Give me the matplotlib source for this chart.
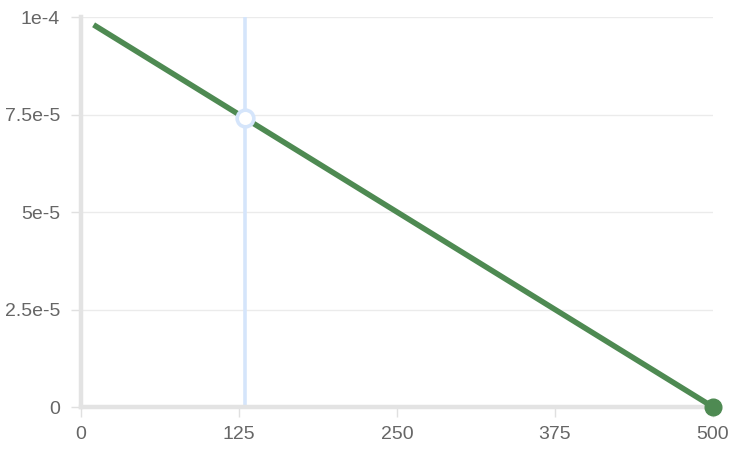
import numpy as np
from matplotlib import pyplot as plt

# data
x_vals = [10, 130, 500]
y_vals = [9.8e-5, 7.4e-5, 0.0]
hover_x = 130
hover_y = 7.4e-5

x_ticks = [0, 125, 250, 375, 500]
x_labels = ['0', '125', '250', '375', '500']
y_ticks = [0, 2.5e-5, 5e-5, 7.5e-5, 1e-4]
y_labels = ['0', '2.5e-5', '5e-5', '7.5e-5', '1e-4']

plt.rcParams['font.family'] = ['Liberation Sans', 'DejaVu Sans']

fig = plt.figure(figsize=(7.36, 4.57), dpi=100)
ax = fig.add_axes([0.110, 0.1094, 0.8588, 0.8534])

ax.set_xlim(0, 500)
ax.set_ylim(0, 1e-4)

# horizontal grid only
for yt in y_ticks[1:]:
    ax.axhline(yt, color='#ebebeb', lw=1, zorder=0)

# hover crosshair
ax.axvline(hover_x, color='#d5e5fb', lw=2.6, zorder=1)

ax.plot(x_vals, y_vals, color='#4e8a52', lw=4, solid_capstyle='butt', zorder=3, clip_on=False)
ax.plot([x_vals[-1]], [y_vals[-1]], 'o', color='#4e8a52', ms=12, zorder=4, clip_on=False)
ax.plot([hover_x], [hover_y], 'o', mfc='white', mec='#d5e5fb', mew=2.6, ms=12, zorder=5, clip_on=False)

ax.set_xticks(x_ticks)
ax.set_xticklabels(x_labels)
ax.set_yticks(y_ticks)
ax.set_yticklabels(y_labels)
ax.tick_params(axis='both', colors='#e0e0e0', labelcolor='#666666', labelsize=14,
               length=7, width=1, direction='out')
ax.tick_params(axis='x', pad=7)
ax.tick_params(axis='y', pad=8)

for side in ['top', 'right']:
    ax.spines[side].set_visible(False)
for side in ['left', 'bottom']:
    ax.spines[side].set_color('#e3e3e3')
    ax.spines[side].set_linewidth(3.2)

fig.savefig('out.png', dpi=100)
